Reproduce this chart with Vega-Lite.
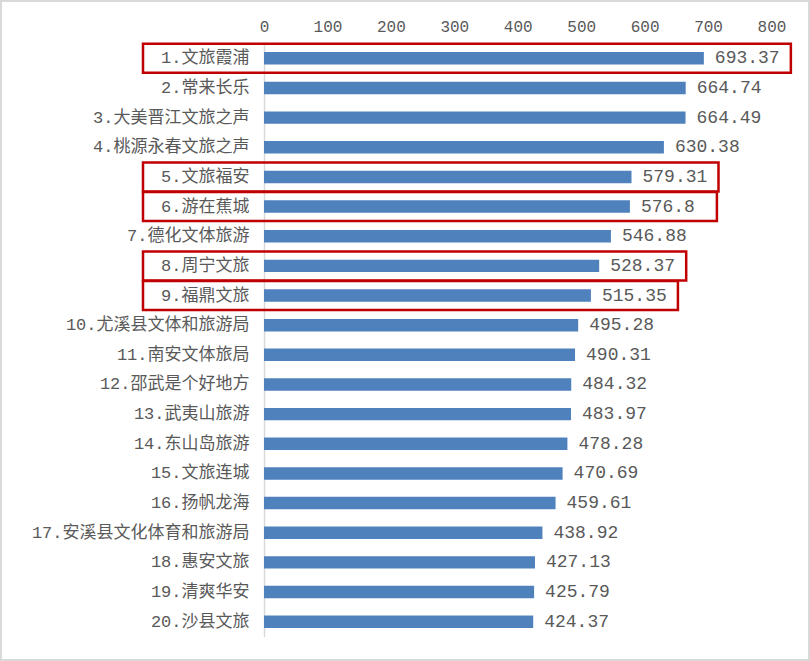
{
  "$schema": "https://vega.github.io/schema/vega-lite/v6.json",
  "width": 810,
  "height": 661,
  "autosize": {"type": "none"},
  "padding": 0,
  "background": "white",
  "config": {
    "view": {"stroke": "#D9D9D9", "strokeWidth": 4},
    "font": "Liberation Mono, Noto Sans CJK SC"
  },
  "data": {
    "values": [
      {"rank": 1, "name": "1.文旅霞浦", "value": 693.37},
      {"rank": 2, "name": "2.常来长乐", "value": 664.74},
      {"rank": 3, "name": "3.大美晋江文旅之声", "value": 664.49},
      {"rank": 4, "name": "4.桃源永春文旅之声", "value": 630.38},
      {"rank": 5, "name": "5.文旅福安", "value": 579.31},
      {"rank": 6, "name": "6.游在蕉城", "value": 576.8},
      {"rank": 7, "name": "7.德化文体旅游", "value": 546.88},
      {"rank": 8, "name": "8.周宁文旅", "value": 528.37},
      {"rank": 9, "name": "9.福鼎文旅", "value": 515.35},
      {"rank": 10, "name": "10.尤溪县文体和旅游局", "value": 495.28},
      {"rank": 11, "name": "11.南安文体旅局", "value": 490.31},
      {"rank": 12, "name": "12.邵武是个好地方", "value": 484.32},
      {"rank": 13, "name": "13.武夷山旅游", "value": 483.97},
      {"rank": 14, "name": "14.东山岛旅游", "value": 478.28},
      {"rank": 15, "name": "15.文旅连城", "value": 470.69},
      {"rank": 16, "name": "16.扬帆龙海", "value": 459.61},
      {"rank": 17, "name": "17.安溪县文化体育和旅游局", "value": 438.92},
      {"rank": 18, "name": "18.惠安文旅", "value": 427.13},
      {"rank": 19, "name": "19.清爽华安", "value": 425.79},
      {"rank": 20, "name": "20.沙县文旅", "value": 424.37}
    ]
  },
  "encoding": {
    "y": {
      "field": "name",
      "type": "nominal",
      "sort": null,
      "scale": {"range": [43.5, 636.5], "paddingInner": 0.58, "paddingOuter": 0.29},
      "axis": {
        "orient": "left",
        "offset": -264,
        "title": null,
        "ticks": false,
        "grid": false,
        "domainColor": "#D9D9D9",
        "domainWidth": 1.5,
        "labelPadding": 15,
        "labelFontSize": 17,
        "labelColor": "#595959",
        "labelLimit": 400
      }
    }
  },
  "layer": [
    {
      "mark": {"type": "bar", "color": "#4F81BD"},
      "encoding": {
        "x": {
          "field": "value",
          "type": "quantitative",
          "scale": {"domain": [0, 800], "range": [264, 771.5], "nice": false, "zero": false},
          "axis": {
            "orient": "top",
            "offset": -37,
            "title": null,
            "ticks": false,
            "domain": false,
            "grid": false,
            "labelFlush": false,
            "labelOverlap": false,
            "values": [0, 100, 200, 300, 400, 500, 600, 700, 800],
            "labelPadding": 3,
            "labelFontSize": 16,
            "labelColor": "#595959"
          }
        }
      }
    },
    {
      "mark": {"type": "text", "align": "left", "baseline": "middle", "dx": 11, "fontSize": 18, "color": "#595959"},
      "encoding": {
        "x": {"field": "value", "type": "quantitative"},
        "text": {"field": "value", "type": "quantitative"}
      }
    },
    {
      "transform": [{"filter": {"field": "rank", "oneOf": [1, 5, 6, 8, 9]}}],
      "mark": {"type": "rect", "filled": false, "stroke": "#C00000", "strokeWidth": 2.5, "height": 29, "xOffset": 87, "x2Offset": -121},
      "encoding": {
        "x": {"field": "value", "type": "quantitative"},
        "x2": {"datum": 0}
      }
    }
  ]
}
